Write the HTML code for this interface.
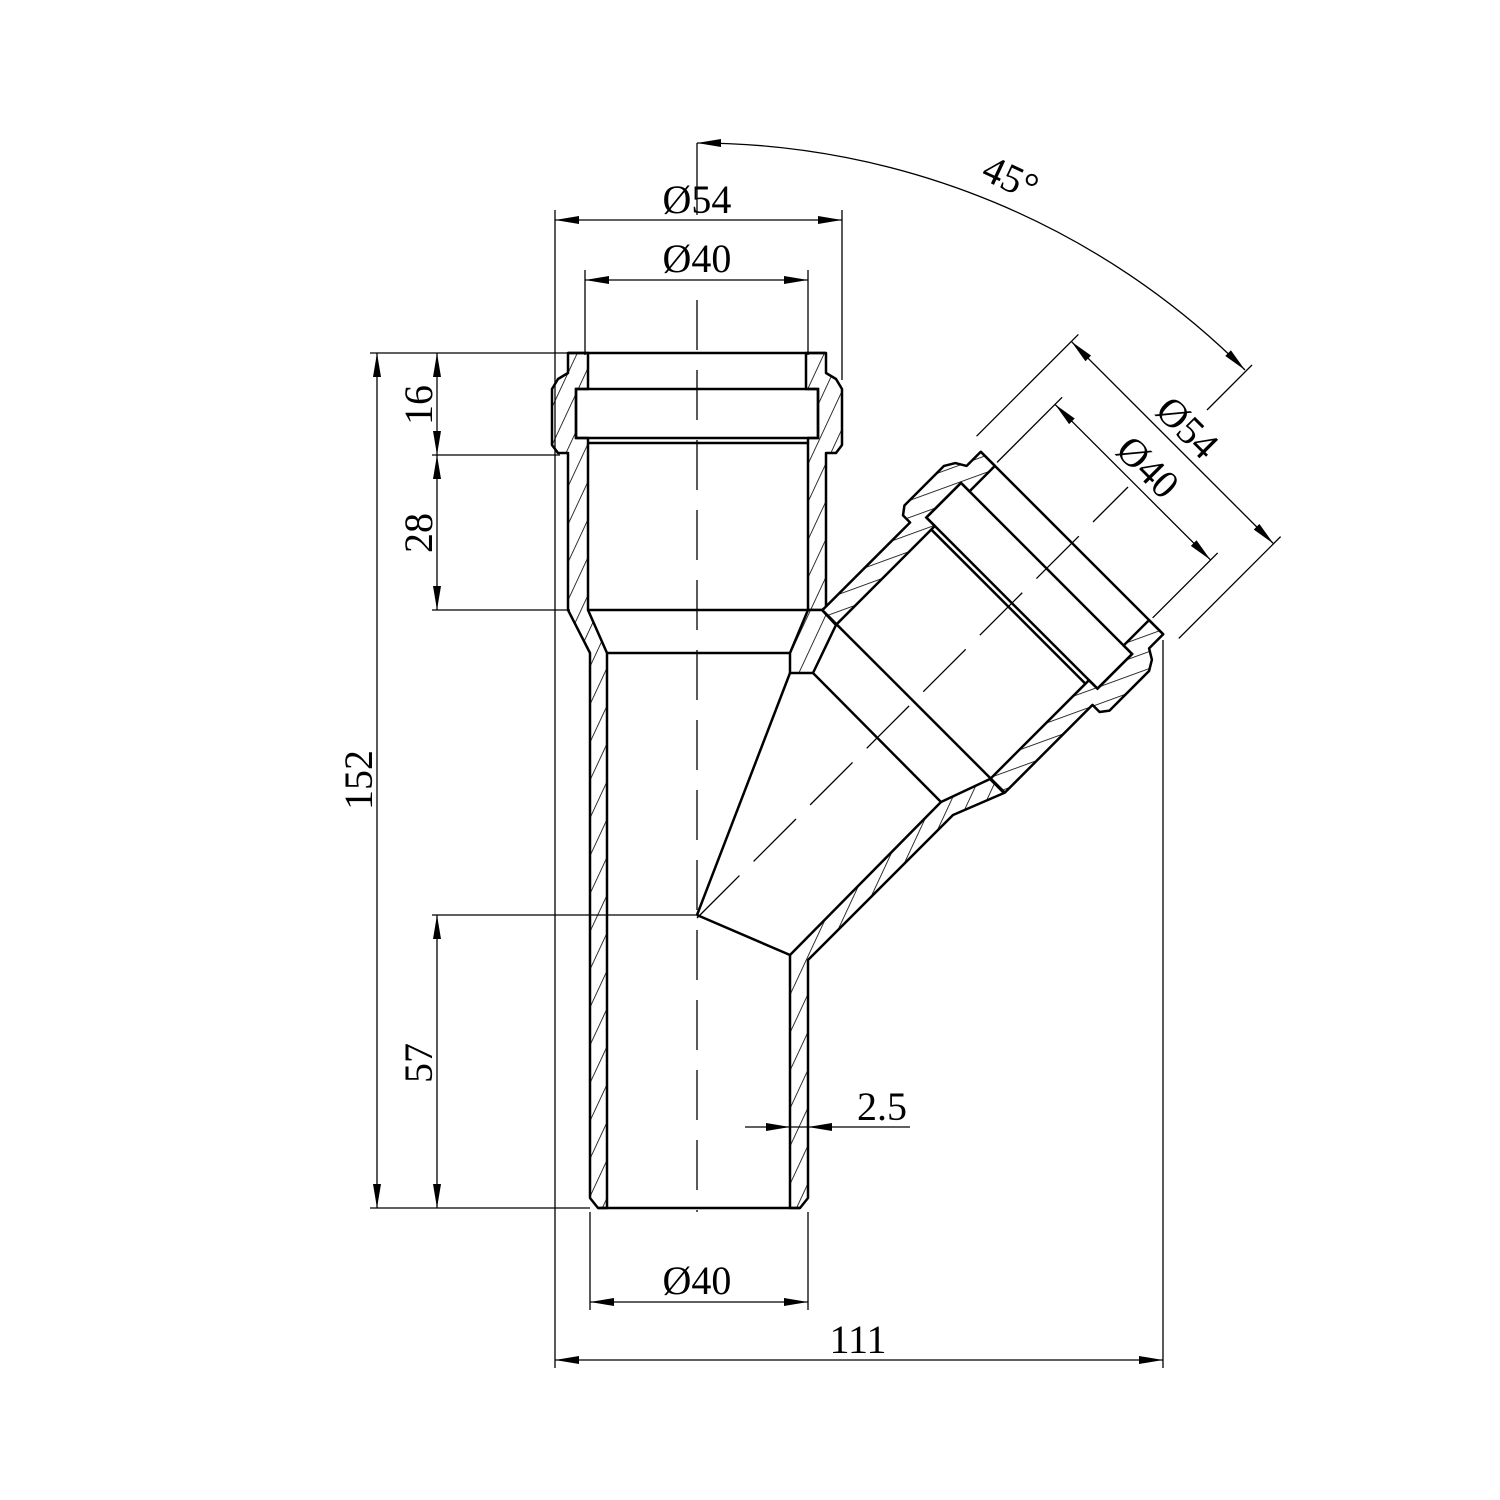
<!DOCTYPE html>
<html><head><meta charset="utf-8"><style>
html,body{margin:0;padding:0;background:#fff}
svg{display:block}
text{font-family:"Liberation Serif",serif;font-size:40px;fill:#000}
</style></head><body>
<svg width="1500" height="1500" viewBox="0 0 1500 1500" xmlns="http://www.w3.org/2000/svg">
<defs>
<pattern id="h" patternUnits="userSpaceOnUse" width="16" height="16" patternTransform="rotate(25)">
<rect width="16" height="16" fill="#fff"/>
<line x1="0" y1="0" x2="0" y2="16" stroke="#000" stroke-width="1.6"/>
</pattern>
<marker id="a" viewBox="0 0 24 8" refX="24" refY="4" markerWidth="24" markerHeight="8" markerUnits="userSpaceOnUse" orient="auto-start-reverse">
<path d="M0,0 L24,4 L0,8 Z" fill="#000"/>
</marker>
</defs>
<rect width="1500" height="1500" fill="#fff"/>

<g stroke="#000" stroke-width="2.5" stroke-linejoin="round" fill="url(#h)">
<polygon points="588,353 568,353 568,373 558,379 552,389 552,445 558,453 568,453 568,610 590,653 590,1198 598,1208 607,1208 607,653 588,610 588,438 576,438 576,389 588,389"/>
<polygon points="806,353 826,353 826,373 836,379 842,389 842,445 836,453 826,453 826,607 822,610 808,610 808,438 818,438 818,389 806,389"/>
<polygon points="808,610 822,610 836,625 813,673 790,673 790,653"/>
<polygon points="790,1208 790,955 941,802 990,779 1004,793 953,815 808,960 808,1198 800,1208"/>
</g>
<g stroke="#000" stroke-width="2.5" fill="none">
<line x1="568" y1="353" x2="826" y2="353"/>
<rect x="576" y="389" width="242" height="49"/>
<line x1="588" y1="443" x2="808" y2="443"/>
<line x1="588" y1="610" x2="808" y2="610"/>
<line x1="607" y1="653" x2="790" y2="653"/>
<line x1="598" y1="1208" x2="800" y2="1208"/>
<line x1="697" y1="915" x2="790" y2="673"/>
<line x1="697" y1="915" x2="790" y2="955"/>
<line x1="813" y1="673" x2="941" y2="802"/>
</g>

<g transform="translate(1072,543) rotate(45)">
<g stroke="#000" stroke-width="2.5" stroke-linejoin="round" fill="url(#h)">
<polygon points="109,0 129,0 129,20 139,26 145,36 145,92 139,100 129,100 129,224 109,224 109,85 121,85 121,36 109,36"/>
<polygon points="-109,0 -129,0 -129,20 -139,26 -145,36 -145,92 -139,100 -129,100 -129,224 -109,224 -109,85 -121,85 -121,36 -109,36"/>
</g>
<g stroke="#000" stroke-width="2.5" fill="none">
<line x1="-129" y1="0" x2="129" y2="0"/>
<rect x="-121" y="36" width="242" height="49"/>
<line x1="-109" y1="90" x2="109" y2="90"/>
<line x1="-109" y1="224" x2="109" y2="224"/>
</g>
<g stroke="#000" stroke-width="1.3" fill="none">
<line x1="-143" y1="-8" x2="-143" y2="-152"/>
<line x1="143" y1="-8" x2="143" y2="-152"/>
<line x1="-110" y1="-4" x2="-110" y2="-96"/>
<line x1="110" y1="-4" x2="110" y2="-96"/>
<line x1="-143" y1="-142" x2="143" y2="-142" marker-start="url(#a)" marker-end="url(#a)"/>
<line x1="-110" y1="-86" x2="110" y2="-86" marker-start="url(#a)" marker-end="url(#a)"/>
</g>
<text x="0" y="-150" text-anchor="middle">Ø54</text>
<text x="0" y="-94" text-anchor="middle">Ø40</text>
</g>

<g stroke="#000" stroke-width="1.3" fill="none">
<line x1="697" y1="300" x2="697" y2="1212" stroke-dasharray="50,20"/>
<line x1="697" y1="143" x2="697" y2="215"/>
<line x1="697" y1="918" x2="1128" y2="487" stroke-dasharray="60,20"/>
</g>

<g stroke="#000" stroke-width="1.3" fill="none">
<line x1="555" y1="210" x2="555" y2="1368"/>
<line x1="842" y1="210" x2="842" y2="380"/>
<line x1="585" y1="270" x2="585" y2="355"/>
<line x1="808" y1="270" x2="808" y2="355"/>
<line x1="555" y1="220" x2="842" y2="220" marker-start="url(#a)" marker-end="url(#a)"/>
<line x1="585" y1="280" x2="808" y2="280" marker-start="url(#a)" marker-end="url(#a)"/>

<line x1="370" y1="353" x2="570" y2="353"/>
<line x1="432" y1="455" x2="560" y2="455"/>
<line x1="432" y1="610" x2="570" y2="610"/>
<line x1="432" y1="915" x2="697" y2="915"/>
<line x1="370" y1="1208" x2="590" y2="1208"/>
<line x1="377" y1="353" x2="377" y2="1208" marker-start="url(#a)" marker-end="url(#a)"/>
<line x1="437" y1="353" x2="437" y2="455" marker-start="url(#a)" marker-end="url(#a)"/>
<line x1="437" y1="455" x2="437" y2="610" marker-start="url(#a)" marker-end="url(#a)"/>
<line x1="437" y1="915" x2="437" y2="1208" marker-start="url(#a)" marker-end="url(#a)"/>

<line x1="590" y1="1212" x2="590" y2="1310"/>
<line x1="808" y1="1212" x2="808" y2="1310"/>
<line x1="590" y1="1302" x2="808" y2="1302" marker-start="url(#a)" marker-end="url(#a)"/>
<line x1="1163" y1="640" x2="1163" y2="1368"/>
<line x1="555" y1="1360" x2="1163" y2="1360" marker-start="url(#a)" marker-end="url(#a)"/>

<line x1="745" y1="1127" x2="790" y2="1127" marker-end="url(#a)"/>
<line x1="910" y1="1127" x2="808" y2="1127" marker-end="url(#a)"/>
<line x1="790" y1="1127" x2="808" y2="1127"/>

<path d="M697,143 A775,775 0 0 1 1245,370" marker-start="url(#a)" marker-end="url(#a)"/>
<line x1="1207" y1="410" x2="1252" y2="365"/>
</g>

<text x="697" y="213" text-anchor="middle">Ø54</text>
<text x="697" y="272" text-anchor="middle">Ø40</text>
<text x="697" y="1294" text-anchor="middle">Ø40</text>
<text x="858" y="1353" text-anchor="middle">111</text>
<text x="882" y="1120" text-anchor="middle">2.5</text>
<text transform="translate(1005,190) rotate(25)" text-anchor="middle">45°</text>
<text transform="translate(372,780) rotate(-90)" text-anchor="middle">152</text>
<text transform="translate(432,405) rotate(-90)" text-anchor="middle">16</text>
<text transform="translate(432,533) rotate(-90)" text-anchor="middle">28</text>
<text transform="translate(432,1063) rotate(-90)" text-anchor="middle">57</text>
</svg>
</body></html>
